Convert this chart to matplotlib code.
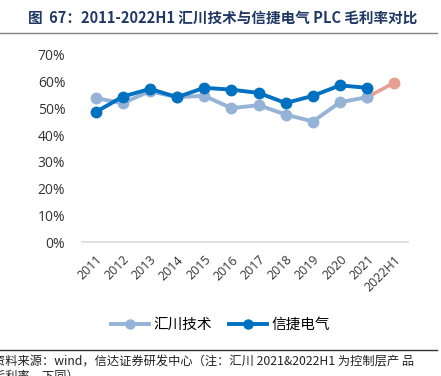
import numpy as np
import matplotlib
matplotlib.use('Agg')
import matplotlib.pyplot as plt
from matplotlib.lines import Line2D

plt.rcParams['font.family'] = ['Noto Sans CJK SC', 'DejaVu Sans']

# ---------------- 数据 ----------------
years = ['2011', '2012', '2013', '2014', '2015', '2016', '2017',
         '2018', '2019', '2020', '2021', '2022H1']
inovance = [53.8, 52.0, 56.4, 54.2, 54.7, 50.1, 51.2, 47.7, 45.1, 52.3, 54.2]
xinje = [48.6, 54.4, 57.3, 54.2, 57.7, 57.0, 55.8, 52.0, 54.7, 58.6, 57.7]
inovance_h1 = 59.6   # 2022H1 控制层产品

C_LIGHT = '#95B3D7'
C_DARK = '#0070C0'
C_PINK = '#E6A091'

fig = plt.figure(figsize=(4.41, 3.76), dpi=100)
ax = fig.add_axes([0.186, 0.356, 0.739, 0.498])

x = np.arange(len(years))
ax.plot(x[len(inovance) - 1:], [inovance[-1], inovance_h1], '-o', color=C_PINK,
        lw=2.6, ms=7.5, zorder=2)
ax.plot(x[:len(inovance)], inovance, '-o', color=C_LIGHT, lw=2.8, ms=7.5, zorder=3)
ax.plot(x[:len(xinje)], xinje, '-o', color=C_DARK, lw=2.8, ms=7.5, zorder=4)

ax.set_xlim(-0.5, len(years) - 0.5)
ax.set_ylim(0, 70)
ax.set_yticks(np.arange(0, 71, 10))
ax.set_yticklabels([f'{v}%' for v in range(0, 71, 10)], family='Open Sans',
                   fontsize=10, color='#333333')
ax.set_xticks(x)
ax.set_xticklabels(years, rotation=45, ha='right', rotation_mode='anchor',
                   family='Open Sans', fontsize=9, color='#333333')
ax.tick_params(axis='y', length=0, pad=12)
ax.tick_params(axis='x', length=0, pad=8)
for s in ['top', 'right', 'left']:
    ax.spines[s].set_visible(False)
ax.spines['bottom'].set_color('#D9D9D9')
ax.spines['bottom'].set_linewidth(1.2)

handles = [Line2D([0], [0], color=C_LIGHT, lw=2.8, marker='o', ms=6.5),
           Line2D([0], [0], color=C_DARK, lw=2.8, marker='o', ms=6.5)]
fig.legend(handles, ['汇川技术', '信捷电气'], loc='center', ncol=2,
           bbox_to_anchor=(0.5, 0.135), frameon=False, fontsize=10.5,
           handlelength=2.6, handletextpad=0.3, columnspacing=1.2)

# 标题与分隔线
fig.text(0.063, 0.953, '图  67：2011-2022H1 汇川技术与信捷电气 PLC 毛利率对比',
         fontsize=10.5, fontweight='bold', color='#1F3864', va='center')
fig.add_artist(Line2D([0, 0.99], [0.913, 0.913], color='#808080', lw=1))
fig.add_artist(Line2D([0, 0.99], [0.068, 0.068], color='#333333', lw=1))

fig.text(-0.016, 0.037, '资料来源：wind，信达证券研发中心（注：汇川 2021&2022H1 为控制层产 品',
         fontsize=8.8, style='italic', color='#222222', va='center')
fig.text(-0.016, 0.0, '毛利率，下同）', fontsize=8.8, style='italic',
         color='#222222', va='center')

plt.savefig('out.png', dpi=100)
plt.close()
